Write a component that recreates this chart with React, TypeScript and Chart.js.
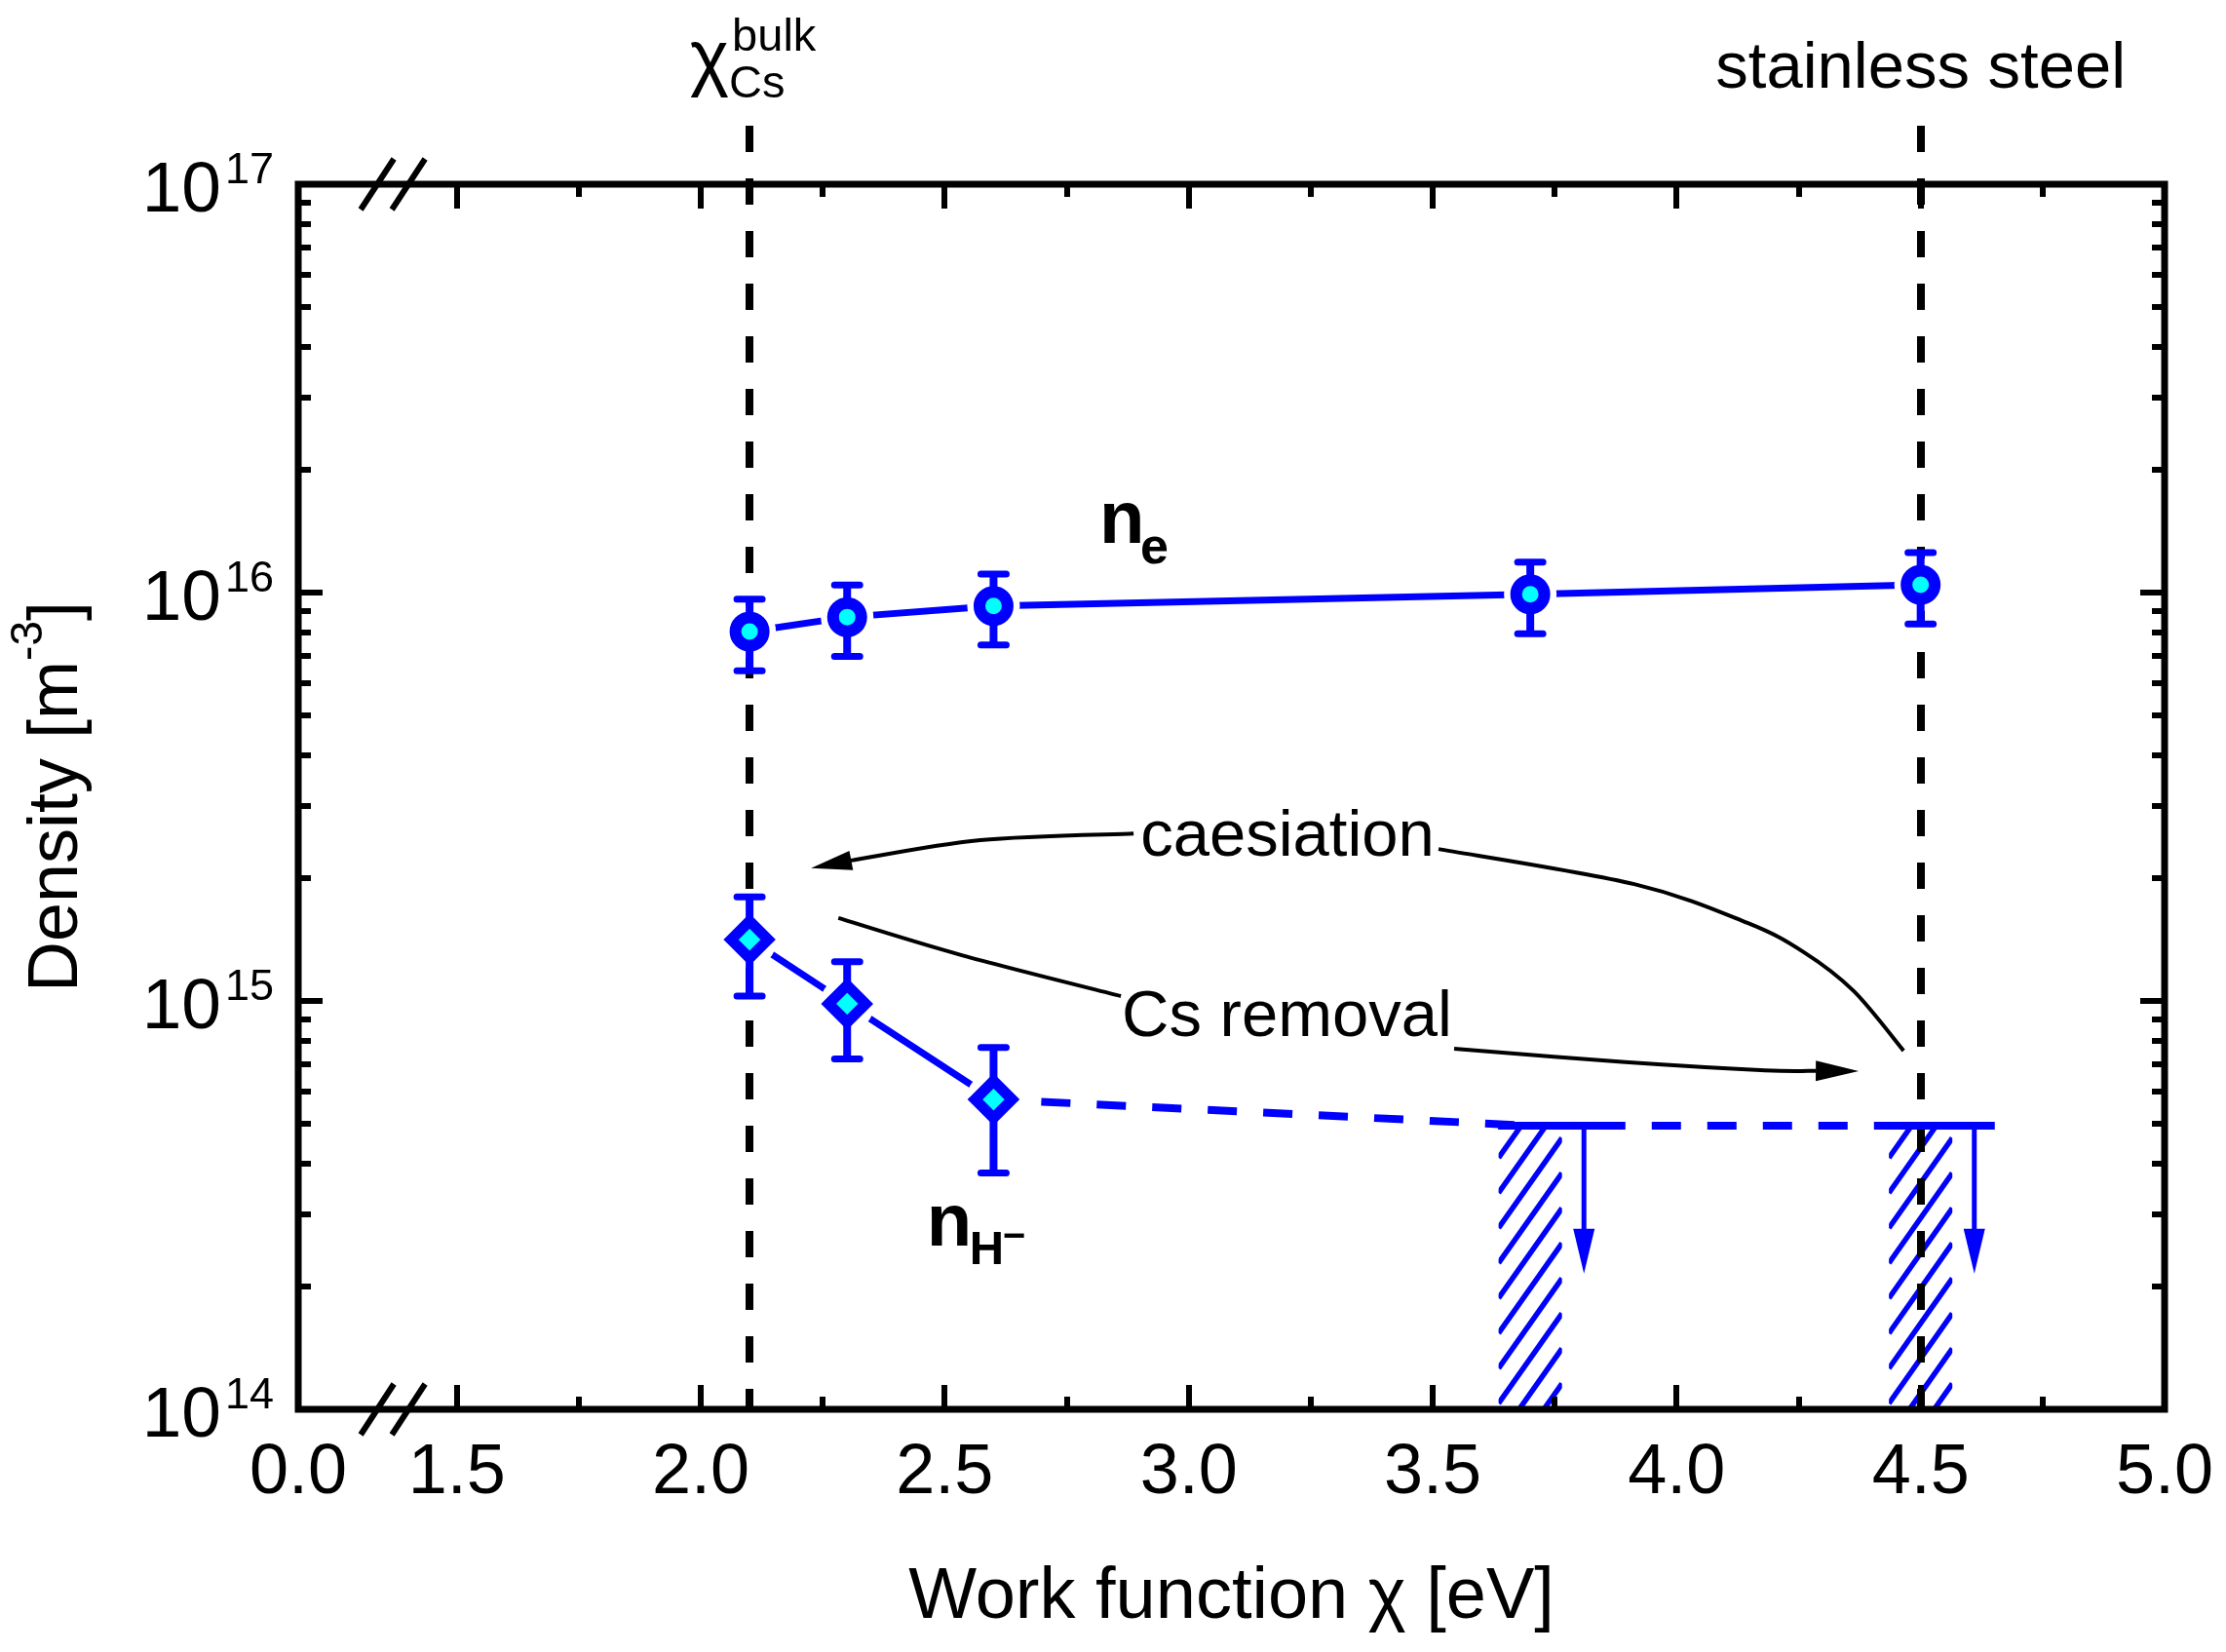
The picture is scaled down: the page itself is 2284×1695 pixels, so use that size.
import React, { useEffect, useRef } from "react";
import { Chart, registerables } from "chart.js";

Chart.register(...registerables);

// ---------------- data ----------------
const neWorkFunction = [2.1, 2.3, 2.6, 3.7, 4.5];
const neDensity = [8.03e15, 8.71e15, 9.27e15, 9.9e15, 1.045e16];
const neError = [1.6e15, 1.73e15, 1.83e15, 1.97e15, 2.07e15];

const nhWorkFunction = [2.1, 2.3, 2.6];
const nhDensity = [1.413e15, 9.84e14, 5.74e14];
const nhError = [3.85e14, 2.63e14, 1.95e14];

const limitWorkFunction = [3.7, 4.5];
const limitDensity = [4.95e14, 4.95e14];

const referenceLines = [2.1, 4.5];

const xMin = 1.175;
const xMax = 5.0;
const xBreakLabel = "0.0";
const xMajorTicks = [1.5, 2.0, 2.5, 3.0, 3.5, 4.0, 4.5, 5.0];
const xMajorLabels = ["1.5", "2.0", "2.5", "3.0", "3.5", "4.0", "4.5", "5.0"];
const xMinorTicks = [1.75, 2.25, 2.75, 3.25, 3.75, 4.25, 4.75];
const yMajorTicks = [1e14, 1e15, 1e16, 1e17];
const yMajorExponents = ["14", "15", "16", "17"];

// ---------------- style ----------------
const BLUE = "#0000ff";
const CYAN = "#00ffff";
const FONT = '"Liberation Sans", Arial, Helvetica, sans-serif';

type P = [number, number];

function smoothPath(ctx: CanvasRenderingContext2D, pts: P[]) {
  ctx.moveTo(pts[0][0], pts[0][1]);
  for (let i = 0; i < pts.length - 1; i++) {
    const p0 = pts[i - 1] || pts[i];
    const p1 = pts[i];
    const p2 = pts[i + 1];
    const p3 = pts[i + 2] || p2;
    const c1x = p1[0] + (p2[0] - p0[0]) / 6;
    const c1y = p1[1] + (p2[1] - p0[1]) / 6;
    const c2x = p2[0] - (p3[0] - p1[0]) / 6;
    const c2y = p2[1] - (p3[1] - p1[1]) / 6;
    ctx.bezierCurveTo(c1x, c1y, c2x, c2y, p2[0], p2[1]);
  }
}

function drawCurve(
  ctx: CanvasRenderingContext2D,
  pts: P[],
  head: boolean,
  color: string,
  width: number,
  headLen: number,
  headHalf: number
) {
  const path = pts.slice();
  let tip: P | null = null;
  let base: P | null = null;
  let nx = 0;
  let ny = 0;
  if (head) {
    tip = path[path.length - 1];
    const prev = path[path.length - 2];
    let dx = tip[0] - prev[0];
    let dy = tip[1] - prev[1];
    const l = Math.hypot(dx, dy);
    dx /= l;
    dy /= l;
    base = [tip[0] - dx * headLen, tip[1] - dy * headLen];
    path[path.length - 1] = base;
    nx = -dy;
    ny = dx;
  }
  ctx.save();
  ctx.strokeStyle = color;
  ctx.lineWidth = width;
  ctx.lineCap = "butt";
  ctx.lineJoin = "round";
  ctx.beginPath();
  smoothPath(ctx, path);
  ctx.stroke();
  if (head && tip && base) {
    ctx.fillStyle = color;
    ctx.beginPath();
    ctx.moveTo(tip[0], tip[1]);
    ctx.lineTo(base[0] + nx * headHalf, base[1] + ny * headHalf);
    ctx.lineTo(base[0] - nx * headHalf, base[1] - ny * headHalf);
    ctx.closePath();
    ctx.fill();
  }
  ctx.restore();
}

const overlayPlugin = {
  id: "overlay",
  beforeDatasetsDraw(chart: any) {
    const ctx: CanvasRenderingContext2D = chart.ctx;
    const xs = chart.scales.x;
    const ys = chart.scales.y;
    const area = chart.chartArea;
    ctx.save();
    // hatched regions below the upper limits
    limitWorkFunction.forEach((wf, i) => {
      const x0 = xs.getPixelForValue(wf - 0.065);
      const x1 = xs.getPixelForValue(wf + 0.065);
      const yTop = ys.getPixelForValue(limitDensity[i]);
      const yBot = area.bottom;
      ctx.save();
      ctx.beginPath();
      ctx.rect(x0, yTop, x1 - x0, yBot - yTop);
      ctx.clip();
      ctx.strokeStyle = BLUE;
      ctx.lineWidth = 5.5;
      const w = x1 - x0;
      for (let k = -2; k < 20; k++) {
        const yy = yBot - k * 36 - 6;
        ctx.beginPath();
        ctx.moveTo(x0, yy);
        ctx.lineTo(x1, yy - w * 1.42);
        ctx.stroke();
      }
      ctx.restore();
    });
    // vertical reference lines
    ctx.strokeStyle = "#000";
    ctx.lineWidth = 8;
    ctx.setLineDash([27, 27]);
    referenceLines.forEach((wf) => {
      const x = Math.round(xs.getPixelForValue(wf));
      ctx.beginPath();
      ctx.moveTo(x, area.top - 60);
      ctx.lineTo(x, area.bottom);
      ctx.stroke();
    });
    ctx.setLineDash([]);
    // upper limit bars and arrows
    ctx.strokeStyle = BLUE;
    ctx.fillStyle = BLUE;
    limitWorkFunction.forEach((wf, i) => {
      const y = ys.getPixelForValue(limitDensity[i]);
      ctx.lineWidth = 8;
      ctx.beginPath();
      ctx.moveTo(xs.getPixelForValue(wf - 0.066), y);
      ctx.lineTo(xs.getPixelForValue(wf + 0.152), y);
      ctx.stroke();
      const ax = xs.getPixelForValue(wf + 0.11);
      const tipY = ys.getPixelForValue(2.15e14);
      ctx.lineWidth = 5;
      ctx.beginPath();
      ctx.moveTo(ax, y);
      ctx.lineTo(ax, tipY - 40);
      ctx.stroke();
      ctx.beginPath();
      ctx.moveTo(ax, tipY);
      ctx.lineTo(ax - 11, tipY - 46);
      ctx.lineTo(ax + 11, tipY - 46);
      ctx.closePath();
      ctx.fill();
    });
    ctx.restore();
  },
  afterDatasetDraw(chart: any, args: any) {
    const ds = chart.data.datasets[args.index];
    if (ds.label !== "haloNH") return;
    const ctx: CanvasRenderingContext2D = chart.ctx;
    const xs = chart.scales.x;
    const ys = chart.scales.y;
    ctx.save();
    ctx.strokeStyle = BLUE;
    const bars = (xv: number[], yv: number[], ev: number[]) => {
      xv.forEach((wf, i) => {
        const x = xs.getPixelForValue(wf);
        const yHi = ys.getPixelForValue(yv[i] + ev[i]);
        const yLo = ys.getPixelForValue(yv[i] - ev[i]);
        ctx.lineWidth = 8;
        ctx.lineCap = "butt";
        ctx.beginPath();
        ctx.moveTo(x, yHi);
        ctx.lineTo(x, yLo);
        ctx.stroke();
        ctx.lineWidth = 7;
        ctx.lineCap = "round";
        ctx.beginPath();
        ctx.moveTo(x - 13, yHi);
        ctx.lineTo(x + 13, yHi);
        ctx.moveTo(x - 13, yLo);
        ctx.lineTo(x + 13, yLo);
        ctx.stroke();
      });
    };
    bars(neWorkFunction, neDensity, neError);
    bars(nhWorkFunction, nhDensity, nhError);
    ctx.restore();
  },
  afterDatasetsDraw(chart: any) {
    const ctx: CanvasRenderingContext2D = chart.ctx;
    const xs = chart.scales.x;
    const ys = chart.scales.y;
    const a = chart.chartArea;
    const X = (v: number) => xs.getPixelForValue(v);
    const Y = (lg: number) => ys.getPixelForValue(Math.pow(10, lg));
    ctx.save();
    // frame
    ctx.strokeStyle = "#000";
    ctx.lineWidth = 7;
    ctx.lineJoin = "miter";
    ctx.strokeRect(a.left, a.top, a.right - a.left, a.bottom - a.top);
    // ticks
    ctx.lineWidth = 6;
    ctx.beginPath();
    const vTick = (v: number, len: number) => {
      const x = Math.round(X(v));
      ctx.moveTo(x, a.bottom);
      ctx.lineTo(x, a.bottom - len);
      ctx.moveTo(x, a.top);
      ctx.lineTo(x, a.top + len);
    };
    xMajorTicks.forEach((v) => vTick(v, 25));
    xMinorTicks.forEach((v) => vTick(v, 13));
    const hTick = (v: number, len: number) => {
      const y = Math.round(ys.getPixelForValue(v));
      ctx.moveTo(a.left, y);
      ctx.lineTo(a.left + len, y);
      ctx.moveTo(a.right, y);
      ctx.lineTo(a.right - len, y);
    };
    yMajorTicks.forEach((v) => hTick(v, 25));
    for (let d = 0; d < yMajorTicks.length - 1; d++) {
      for (let m = 2; m <= 9; m++) hTick(yMajorTicks[d] * m, 13);
    }
    ctx.stroke();
    // axis breaks
    const bx = X(1.369);
    ctx.lineWidth = 6;
    ctx.beginPath();
    [a.top, a.bottom].forEach((yy) => {
      [-16, 16].forEach((off) => {
        ctx.moveTo(bx + off - 17, yy + 26);
        ctx.lineTo(bx + off + 17, yy - 26);
      });
    });
    ctx.stroke();

    ctx.fillStyle = "#000";
    // x tick labels
    ctx.font = `72px ${FONT}`;
    ctx.textAlign = "center";
    ctx.textBaseline = "alphabetic";
    ctx.fillText(xBreakLabel, X(xMin), a.bottom + 86);
    xMajorTicks.forEach((v, i) => ctx.fillText(xMajorLabels[i], X(v), a.bottom + 86));
    // y tick labels
    ctx.textAlign = "right";
    yMajorTicks.forEach((v, i) => {
      const y = ys.getPixelForValue(v);
      ctx.font = `45px ${FONT}`;
      const sw = ctx.measureText(yMajorExponents[i]).width;
      ctx.fillText(yMajorExponents[i], a.left - 25, y - 1);
      ctx.font = `73px ${FONT}`;
      ctx.fillText("10", a.left - 25 - sw - 4, y + 28);
    });
    // x title
    ctx.textAlign = "center";
    ctx.font = `74px ${FONT}`;
    ctx.fillText("Work function \u03c7 [eV]", (a.left + a.right) / 2, 1660);
    // y title
    ctx.save();
    ctx.translate(79, (a.top + a.bottom) / 2);
    ctx.rotate(-Math.PI / 2);
    ctx.textAlign = "left";
    const runs = [
      { t: "Density [m", f: `72px ${FONT}`, dy: 0 },
      { t: "-3", f: `46px ${FONT}`, dy: -36 },
      { t: "]", f: `72px ${FONT}`, dy: 0 },
    ];
    let tw = 0;
    runs.forEach((r) => {
      ctx.font = r.f;
      tw += ctx.measureText(r.t).width;
    });
    let cx = -tw / 2;
    runs.forEach((r) => {
      ctx.font = r.f;
      ctx.fillText(r.t, cx, r.dy);
      cx += ctx.measureText(r.t).width;
    });
    ctx.restore();

    // labels of the reference lines
    ctx.textAlign = "left";
    const cs = X(referenceLines[0]);
    ctx.font = `76px ${FONT}`;
    ctx.fillText("\u03c7", cs - 61, 84);
    ctx.font = `47px ${FONT}`;
    ctx.fillText("Cs", cs - 21, 100);
    ctx.fillText("bulk", cs - 18, 52);
    ctx.textAlign = "center";
    ctx.font = `67px ${FONT}`;
    ctx.fillText("stainless steel", X(referenceLines[1]), 90);

    // series labels
    ctx.textAlign = "left";
    const neX = X(2.823);
    const neY = Y(16.122);
    ctx.font = `bold 76px ${FONT}`;
    ctx.fillText("n", neX - 3, neY);
    ctx.font = `bold 52px ${FONT}`;
    ctx.fillText("e", neX + 39, neY + 21);

    const nhX = X(2.469);
    const nhY = Y(14.401);
    ctx.font = `bold 76px ${FONT}`;
    ctx.fillText("n", nhX - 3, nhY);
    ctx.font = `bold 49px ${FONT}`;
    ctx.fillText("H", nhX + 41, nhY + 19);
    ctx.font = `bold 40px ${FONT}`;
    ctx.fillText("\u2212", nhX + 75, nhY + 3);

    // annotation texts
    ctx.font = `67px ${FONT}`;
    ctx.fillText("caesiation", X(2.901), Y(15.356));
    ctx.fillText("Cs removal", X(2.863), Y(14.914));

    // annotation arrows
    const toPx = (pts: number[][]): P[] => pts.map((p) => [X(p[0]), Y(p[1])] as P);
    drawCurve(
      ctx,
      toPx([
        [2.887, 15.41],
        [2.573, 15.394],
        [2.308, 15.344],
        [2.226, 15.325],
      ]),
      true,
      "#000",
      4,
      42,
      10
    );
    drawCurve(
      ctx,
      toPx([
        [3.512, 15.372],
        [3.913, 15.286],
        [4.145, 15.191],
        [4.261, 15.119],
        [4.363, 15.024],
        [4.465, 14.878],
      ]),
      false,
      "#000",
      4,
      0,
      0
    );
    drawCurve(
      ctx,
      toPx([
        [2.282, 15.203],
        [2.535, 15.112],
        [2.861, 15.012],
      ]),
      false,
      "#000",
      4,
      0,
      0
    );
    drawCurve(
      ctx,
      toPx([
        [3.544, 14.883],
        [3.895, 14.85],
        [4.181, 14.83],
        [4.373, 14.828],
      ]),
      true,
      "#000",
      4,
      44,
      10.5
    );
    ctx.restore();
  },
};

export default function App() {
  const ref = useRef<HTMLCanvasElement | null>(null);
  useEffect(() => {
    document.body.style.margin = "0";
    document.body.style.overflow = "hidden";
    const canvas = ref.current;
    if (!canvas) return;
    const pts = (xv: number[], yv: number[]) => xv.map((x, i) => ({ x, y: yv[i] }));
    const dashedX = [nhWorkFunction[nhWorkFunction.length - 1], ...limitWorkFunction];
    const dashedY = [nhDensity[nhDensity.length - 1], ...limitDensity];
    const chart = new Chart(canvas, {
      type: "line",
      data: {
        datasets: [
          {
            label: "lineNe",
            data: pts(neWorkFunction, neDensity),
            borderColor: BLUE,
            borderWidth: 7,
            borderCapStyle: "round",
            pointRadius: 0,
            order: 6,
          },
          {
            label: "lineNH",
            data: pts(nhWorkFunction, nhDensity),
            borderColor: BLUE,
            borderWidth: 7,
            borderCapStyle: "round",
            pointRadius: 0,
            order: 5,
          },
          {
            label: "dashedNH",
            data: pts(dashedX, dashedY),
            borderColor: BLUE,
            borderWidth: 8,
            borderDash: [30, 27],
            borderDashOffset: 8,
            pointRadius: 0,
            order: 4,
          },
          {
            label: "haloNe",
            data: pts(neWorkFunction, neDensity),
            showLine: false,
            pointRadius: 27,
            pointBorderWidth: 0,
            pointBackgroundColor: "#ffffff",
            pointBorderColor: "#ffffff",
            order: 3,
          },
          {
            label: "haloNH",
            data: pts(nhWorkFunction, nhDensity),
            showLine: false,
            pointRadius: 28,
            pointBorderWidth: 0,
            pointBackgroundColor: "#ffffff",
            pointBorderColor: "#ffffff",
            order: 2,
          },
          {
            label: "n_e",
            data: pts(neWorkFunction, neDensity),
            showLine: false,
            pointStyle: "circle",
            pointRadius: 14.5,
            pointBorderWidth: 12,
            pointBackgroundColor: CYAN,
            pointBorderColor: BLUE,
            order: 1,
          },
          {
            label: "n_H-",
            data: pts(nhWorkFunction, nhDensity),
            showLine: false,
            pointStyle: "rectRot",
            pointRadius: 19,
            pointBorderWidth: 11,
            pointBackgroundColor: CYAN,
            pointBorderColor: BLUE,
            order: 0,
          },
        ],
      },
      options: {
        animation: false,
        responsive: false,
        maintainAspectRatio: false,
        devicePixelRatio: 1,
        events: [],
        layout: { padding: { left: 306, right: 63, top: 189, bottom: 249 } },
        plugins: { legend: { display: false }, tooltip: { enabled: false } },
        scales: {
          x: { type: "linear", min: xMin, max: xMax, display: false },
          y: { type: "logarithmic", min: 1e14, max: 1e17, display: false },
        },
      } as any,
      plugins: [overlayPlugin],
    });
    return () => chart.destroy();
  }, []);
  return (
    <div style={{ width: 2284, height: 1695, background: "#fff" }}>
      <canvas ref={ref} width={2284} height={1695} style={{ display: "block" }} />
    </div>
  );
}
